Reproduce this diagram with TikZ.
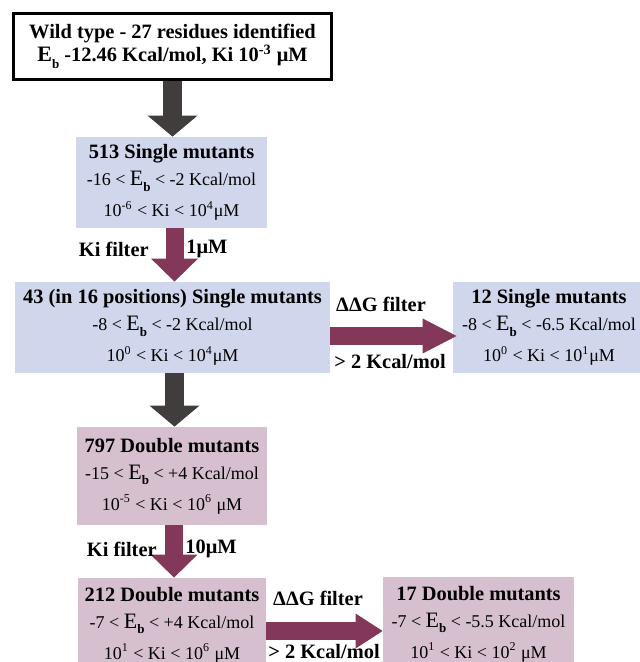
\documentclass[tikz,border=0pt]{standalone}
\usepackage{fontspec}
\setmainfont{Liberation Serif}
\usepackage{xcolor}
\usetikzlibrary{arrows.meta}
\definecolor{singleblue}{RGB}{208, 214, 236}
\definecolor{doublemauve}{RGB}{214, 191, 207}
\definecolor{filtermaroon}{RGB}{131, 56, 90}
\definecolor{flowgrey}{RGB}{66, 61, 61}
\newcommand{\Ebind}{{\fontsize{11}{11}\selectfont E}\raisebox{-0.7ex}{\fontsize{6.5}{6.5}\selectfont\bfseries b}}
\newcommand{\headfont}{\fontsize{10.2}{13.5}\selectfont\bfseries}

\begin{document}
\begin{tikzpicture}[x=0.5pt, y=-0.5pt,
        mutbox/.style={rectangle, inner sep=0pt, align=center, font=\fontsize{9}{13.5}\selectfont},
        flowarrow/.style={draw=flowgrey, line width=9.5pt, -{Triangle[width=25pt, length=10.5pt, line width=0pt]}},
        kiarrow/.style={draw=filtermaroon, line width=9pt, -{Triangle[width=23.5pt, length=11.5pt, line width=0pt]}},
        ddgarrow/.style={draw=filtermaroon, line width=9pt, -{Triangle[width=17.5pt, length=#1, line width=0pt]}},
        filterlabel/.style={font=\headfont, inner sep=0pt}]
        \useasboundingbox (0,0) rectangle (640,662);
        \clip (0,0) rectangle (640,662);

        % Stage boxes
        \node[mutbox, draw=black, line width=1.5pt, minimum width=159pt, minimum height=33pt,
              font=\fontsize{10.2}{11.5}\selectfont\bfseries] (wild) at (172.5,46.5)
              {Wild type - 27 residues identified\\ \Ebind\ -12.46 Kcal/mol, Ki 10\textsuperscript{-3} μM};
        \node[mutbox, fill=singleblue, minimum width=95.5pt, minimum height=45.5pt] (single513) at (171.5,182.5)
              {{\headfont 513 Single mutants}\\ -16 < \Ebind\ < -2 Kcal/mol\\[2pt] 10\textsuperscript{-6} < Ki < 10\textsuperscript{4}μM};
        \node[mutbox, fill=singleblue, minimum width=157.5pt, minimum height=45.5pt] (single43) at (172.5,327.5)
              {{\headfont 43 (in 16 positions) Single mutants}\\ -8 < \Ebind\ < -2 Kcal/mol\\[2pt] 10\textsuperscript{0} < Ki < 10\textsuperscript{4}μM};
        \node[mutbox, fill=singleblue, minimum width=96pt, minimum height=45.5pt] (single12) at (549,327.5)
              {{\headfont 12 Single mutants}\\ -8 < \Ebind\ < -6.5 Kcal/mol\\[2pt] 10\textsuperscript{0} < Ki < 10\textsuperscript{1}μM};
        \node[mutbox, fill=doublemauve, minimum width=95pt, minimum height=49pt] (double797) at (172,476)
              {{\headfont 797 Double mutants}\\ -15 < \Ebind\ < +4 Kcal/mol\\[2pt] 10\textsuperscript{-5} < Ki < 10\textsuperscript{6} μM};
        \node[mutbox, fill=doublemauve, minimum width=94pt, minimum height=47pt] (double212) at (172,625)
              {{\headfont 212 Double mutants}\\ -7 < \Ebind\ < +4 Kcal/mol\\[2pt] 10\textsuperscript{1} < Ki < 10\textsuperscript{6} μM};
        \node[mutbox, fill=doublemauve, minimum width=95.5pt, minimum height=47pt] (double17) at (478.5,624)
              {{\headfont 17 Double mutants}\\ -7 < \Ebind\ < -5.5 Kcal/mol\\[2pt] 10\textsuperscript{1} < Ki < 10\textsuperscript{2} μM};

        % Arrows between stages
        \draw[flowarrow] (wild.south) -- (wild.south |- single513.north);
        \draw[kiarrow] ([xshift=1.5pt]single513.south) -- ([xshift=1.5pt]single513.south |- single43.north);
        \draw[flowarrow] ([xshift=1pt]single43.south) -- ([xshift=1pt]single43.south |- double797.north);
        \draw[kiarrow] ([xshift=1pt]double797.south) -- ([xshift=1pt]double797.south |- double212.north);
        \draw[ddgarrow=17pt] ([yshift=-4.25pt]single43.east) -- ([xshift=2pt,yshift=-4.25pt]single12.west);
        \draw[ddgarrow=13.5pt] ([yshift=-3pt]double212.east) -- ([yshift=-3pt]double212.east -| double17.west);

        % Filter labels
        \node[filterlabel, anchor=east] (kifirst) at (149,249) {Ki filter};
        \node[filterlabel, anchor=west] (kifirstval) at (186,249) {1μM};
        \node[filterlabel, anchor=east] (kisecond) at (157,549) {Ki filter};
        \node[filterlabel, anchor=west] (kisecondval) at (185,549) {10μM};
        \node[filterlabel] (ddgfirst) at (381,304) {ΔΔG filter};
        \node[filterlabel] (ddgfirstcut) at (390,362) {> 2 Kcal/mol};
        \node[filterlabel] (ddgsecond) at (318,598) {ΔΔG filter};
        \node[filterlabel] (ddgsecondcut) at (324,652) {> 2 Kcal/mol};
    \end{tikzpicture}
\end{document}
